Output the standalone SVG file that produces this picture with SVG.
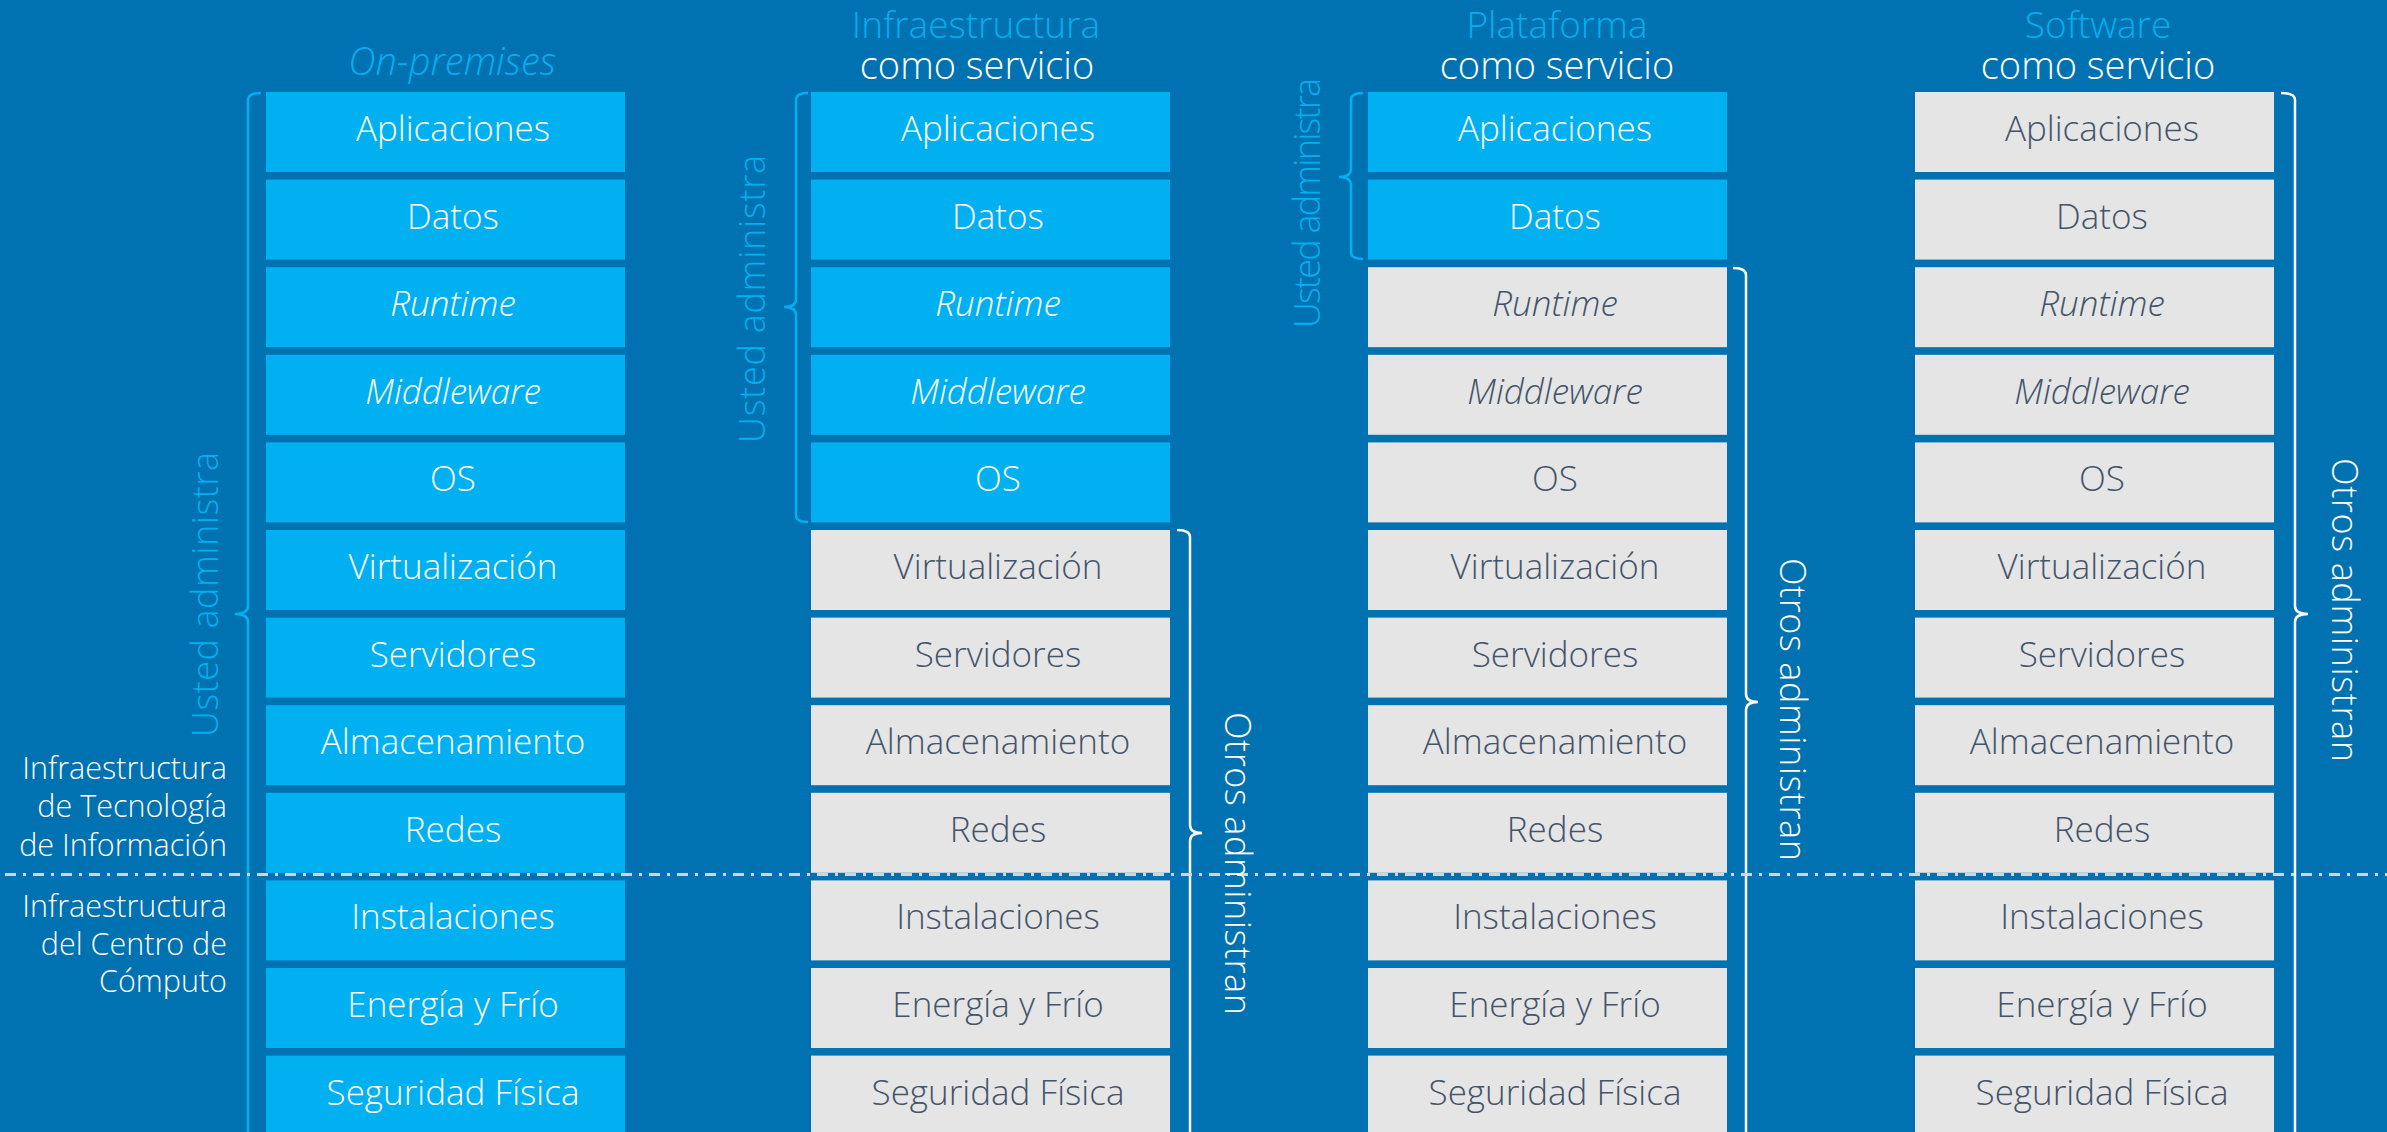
<svg xmlns="http://www.w3.org/2000/svg" width="2387" height="1132" viewBox="0 0 2387 1132">
<style>
text{font-family:"Open Sans","Noto Sans","Liberation Sans",sans-serif;font-weight:300}
.b{fill:#00B0F0}
.g{fill:#E5E5E5}
.lbl{font-size:35px;text-anchor:middle}
.w{fill:#FFFFFF}
.d{fill:#44546A}
.it{font-style:italic}
.ttl{font-size:38px;text-anchor:middle}
.t1{font-size:37px}
.cy{fill:#00B0F0}
.side{font-size:30.5px;text-anchor:end;fill:#FFFFFF}
.vert{font-size:36px;text-anchor:middle}
.brc{fill:none;stroke:#00B0F0;stroke-width:2.5}
.brw{fill:none;stroke:#FFFFFF;stroke-width:2.5}
</style>
<defs>
<rect id="bx" width="359" height="80"/>
</defs>
<rect width="2387" height="1132" fill="#0071B1"/>

<g id="titles">
<text class="ttl it cy" x="452" y="75">On-premises</text>
<text class="ttl t1 cy" x="976" y="38">Infraestructura</text>
<text class="ttl w" x="977" y="79">como servicio</text>
<text class="ttl t1 cy" x="1557" y="38">Plataforma</text>
<text class="ttl w" x="1557" y="79">como servicio</text>
<text class="ttl t1 cy" x="2098" y="38">Software</text>
<text class="ttl w" x="2098" y="79">como servicio</text>
</g>

<g id="side-labels">
<text class="side" x="227" y="779">Infraestructura</text>
<text class="side" x="227" y="817">de Tecnología</text>
<text class="side" x="227" y="856">de Información</text>
<text class="side" x="227" y="917">Infraestructura</text>
<text class="side" x="227" y="955">del Centro de</text>
<text class="side" x="227" y="992">Cómputo</text>
</g>

<!-- Column 1: On-premises -->
<g id="onprem">
<g id="c1-r0"><use href="#bx" class="b" x="266" y="92"/><text class="lbl w" x="453" y="141">Aplicaciones</text></g>
<g id="c1-r1"><use href="#bx" class="b" x="266" y="179.6"/><text class="lbl w" x="453" y="228.6">Datos</text></g>
<g id="c1-r2"><use href="#bx" class="b" x="266" y="267.2"/><text class="lbl w it" x="453" y="316.2">Runtime</text></g>
<g id="c1-r3"><use href="#bx" class="b" x="266" y="354.8"/><text class="lbl w it" x="453" y="403.8">Middleware</text></g>
<g id="c1-r4"><use href="#bx" class="b" x="266" y="442.4"/><text class="lbl w" x="453" y="491.4">OS</text></g>
<g id="c1-r5"><use href="#bx" class="b" x="266" y="530"/><text class="lbl w" x="453" y="579">Virtualización</text></g>
<g id="c1-r6"><use href="#bx" class="b" x="266" y="617.6"/><text class="lbl w" x="453" y="666.6">Servidores</text></g>
<g id="c1-r7"><use href="#bx" class="b" x="266" y="705.2"/><text class="lbl w" x="453" y="754.2">Almacenamiento</text></g>
<g id="c1-r8"><use href="#bx" class="b" x="266" y="792.8"/><text class="lbl w" x="453" y="841.8">Redes</text></g>
<g id="c1-r9"><use href="#bx" class="b" x="266" y="880.4"/><text class="lbl w" x="453" y="929.4">Instalaciones</text></g>
<g id="c1-r10"><use href="#bx" class="b" x="266" y="968"/><text class="lbl w" x="453" y="1017">Energía y Frío</text></g>
<g id="c1-r11"><use href="#bx" class="b" x="266" y="1055.6"/><text class="lbl w" x="453" y="1104.6">Seguridad Física</text></g>
</g>

<!-- Column 2: IaaS -->
<g id="iaas">
<g id="c2-r0"><use href="#bx" class="b" x="811" y="92"/><text class="lbl w" x="998" y="141">Aplicaciones</text></g>
<g id="c2-r1"><use href="#bx" class="b" x="811" y="179.6"/><text class="lbl w" x="998" y="228.6">Datos</text></g>
<g id="c2-r2"><use href="#bx" class="b" x="811" y="267.2"/><text class="lbl w it" x="998" y="316.2">Runtime</text></g>
<g id="c2-r3"><use href="#bx" class="b" x="811" y="354.8"/><text class="lbl w it" x="998" y="403.8">Middleware</text></g>
<g id="c2-r4"><use href="#bx" class="b" x="811" y="442.4"/><text class="lbl w" x="998" y="491.4">OS</text></g>
<g id="c2-r5"><use href="#bx" class="g" x="811" y="530"/><text class="lbl d" x="998" y="579">Virtualización</text></g>
<g id="c2-r6"><use href="#bx" class="g" x="811" y="617.6"/><text class="lbl d" x="998" y="666.6">Servidores</text></g>
<g id="c2-r7"><use href="#bx" class="g" x="811" y="705.2"/><text class="lbl d" x="998" y="754.2">Almacenamiento</text></g>
<g id="c2-r8"><use href="#bx" class="g" x="811" y="792.8"/><text class="lbl d" x="998" y="841.8">Redes</text></g>
<g id="c2-r9"><use href="#bx" class="g" x="811" y="880.4"/><text class="lbl d" x="998" y="929.4">Instalaciones</text></g>
<g id="c2-r10"><use href="#bx" class="g" x="811" y="968"/><text class="lbl d" x="998" y="1017">Energía y Frío</text></g>
<g id="c2-r11"><use href="#bx" class="g" x="811" y="1055.6"/><text class="lbl d" x="998" y="1104.6">Seguridad Física</text></g>
</g>

<!-- Column 3: PaaS -->
<g id="paas">
<g id="c3-r0"><use href="#bx" class="b" x="1368" y="92"/><text class="lbl w" x="1555" y="141">Aplicaciones</text></g>
<g id="c3-r1"><use href="#bx" class="b" x="1368" y="179.6"/><text class="lbl w" x="1555" y="228.6">Datos</text></g>
<g id="c3-r2"><use href="#bx" class="g" x="1368" y="267.2"/><text class="lbl d it" x="1555" y="316.2">Runtime</text></g>
<g id="c3-r3"><use href="#bx" class="g" x="1368" y="354.8"/><text class="lbl d it" x="1555" y="403.8">Middleware</text></g>
<g id="c3-r4"><use href="#bx" class="g" x="1368" y="442.4"/><text class="lbl d" x="1555" y="491.4">OS</text></g>
<g id="c3-r5"><use href="#bx" class="g" x="1368" y="530"/><text class="lbl d" x="1555" y="579">Virtualización</text></g>
<g id="c3-r6"><use href="#bx" class="g" x="1368" y="617.6"/><text class="lbl d" x="1555" y="666.6">Servidores</text></g>
<g id="c3-r7"><use href="#bx" class="g" x="1368" y="705.2"/><text class="lbl d" x="1555" y="754.2">Almacenamiento</text></g>
<g id="c3-r8"><use href="#bx" class="g" x="1368" y="792.8"/><text class="lbl d" x="1555" y="841.8">Redes</text></g>
<g id="c3-r9"><use href="#bx" class="g" x="1368" y="880.4"/><text class="lbl d" x="1555" y="929.4">Instalaciones</text></g>
<g id="c3-r10"><use href="#bx" class="g" x="1368" y="968"/><text class="lbl d" x="1555" y="1017">Energía y Frío</text></g>
<g id="c3-r11"><use href="#bx" class="g" x="1368" y="1055.6"/><text class="lbl d" x="1555" y="1104.6">Seguridad Física</text></g>
</g>

<!-- Column 4: SaaS -->
<g id="saas">
<g id="c4-r0"><use href="#bx" class="g" x="1915" y="92"/><text class="lbl d" x="2102" y="141">Aplicaciones</text></g>
<g id="c4-r1"><use href="#bx" class="g" x="1915" y="179.6"/><text class="lbl d" x="2102" y="228.6">Datos</text></g>
<g id="c4-r2"><use href="#bx" class="g" x="1915" y="267.2"/><text class="lbl d it" x="2102" y="316.2">Runtime</text></g>
<g id="c4-r3"><use href="#bx" class="g" x="1915" y="354.8"/><text class="lbl d it" x="2102" y="403.8">Middleware</text></g>
<g id="c4-r4"><use href="#bx" class="g" x="1915" y="442.4"/><text class="lbl d" x="2102" y="491.4">OS</text></g>
<g id="c4-r5"><use href="#bx" class="g" x="1915" y="530"/><text class="lbl d" x="2102" y="579">Virtualización</text></g>
<g id="c4-r6"><use href="#bx" class="g" x="1915" y="617.6"/><text class="lbl d" x="2102" y="666.6">Servidores</text></g>
<g id="c4-r7"><use href="#bx" class="g" x="1915" y="705.2"/><text class="lbl d" x="2102" y="754.2">Almacenamiento</text></g>
<g id="c4-r8"><use href="#bx" class="g" x="1915" y="792.8"/><text class="lbl d" x="2102" y="841.8">Redes</text></g>
<g id="c4-r9"><use href="#bx" class="g" x="1915" y="880.4"/><text class="lbl d" x="2102" y="929.4">Instalaciones</text></g>
<g id="c4-r10"><use href="#bx" class="g" x="1915" y="968"/><text class="lbl d" x="2102" y="1017">Energía y Frío</text></g>
<g id="c4-r11"><use href="#bx" class="g" x="1915" y="1055.6"/><text class="lbl d" x="2102" y="1104.6">Seguridad Física</text></g>
</g>

<g id="connectors">
<path class="brc" d="M261,93 Q248,93 248,100 V606 Q248,614 235,614 Q248,614 248,622 V1145"/>
<path class="brc" d="M808,93 Q796,93 796,100 V299 Q796,307 784,307 Q796,307 796,315 V515 Q796,522 808,522"/>
<path class="brw" d="M1177,530 Q1190,530 1190,537 V825 Q1190,833 1202,833 Q1190,833 1190,841 V1145"/>
<path class="brc" d="M1363,93 Q1351,93 1351,100 V169 Q1351,177 1339,177 Q1351,177 1351,185 V252 Q1351,259 1363,259"/>
<path class="brw" d="M1733,268 Q1746,268 1746,275 V694 Q1746,702 1758,702 Q1746,702 1746,710 V1145"/>
<path class="brw" d="M2281,93 Q2295,93 2295,100 V606 Q2295,614 2308,614 Q2295,614 2295,622 V1145"/>
<line x1="5" y1="874.5" x2="2387" y2="874.5" stroke="#D4D4D4" stroke-width="3" stroke-dasharray="11 7 3 7"/>
</g>

<g id="bracket-labels">
<text class="vert cy" transform="translate(218,594.5) rotate(-90)" textLength="285" lengthAdjust="spacing">Usted administra</text>
<text class="vert cy" transform="translate(765,299) rotate(-90)" textLength="288" lengthAdjust="spacing">Usted administra</text>
<text class="vert cy" transform="translate(1320,203) rotate(-90)" textLength="250" lengthAdjust="spacing">Usted administra</text>
<text class="vert w" transform="translate(1225,863.5) rotate(90)" textLength="303" lengthAdjust="spacing">Otros administran</text>
<text class="vert w" transform="translate(1780,709.5) rotate(90)" textLength="303" lengthAdjust="spacing">Otros administran</text>
<text class="vert w" transform="translate(2332,610) rotate(90)" textLength="304" lengthAdjust="spacing">Otros administran</text>
</g>
</svg>
